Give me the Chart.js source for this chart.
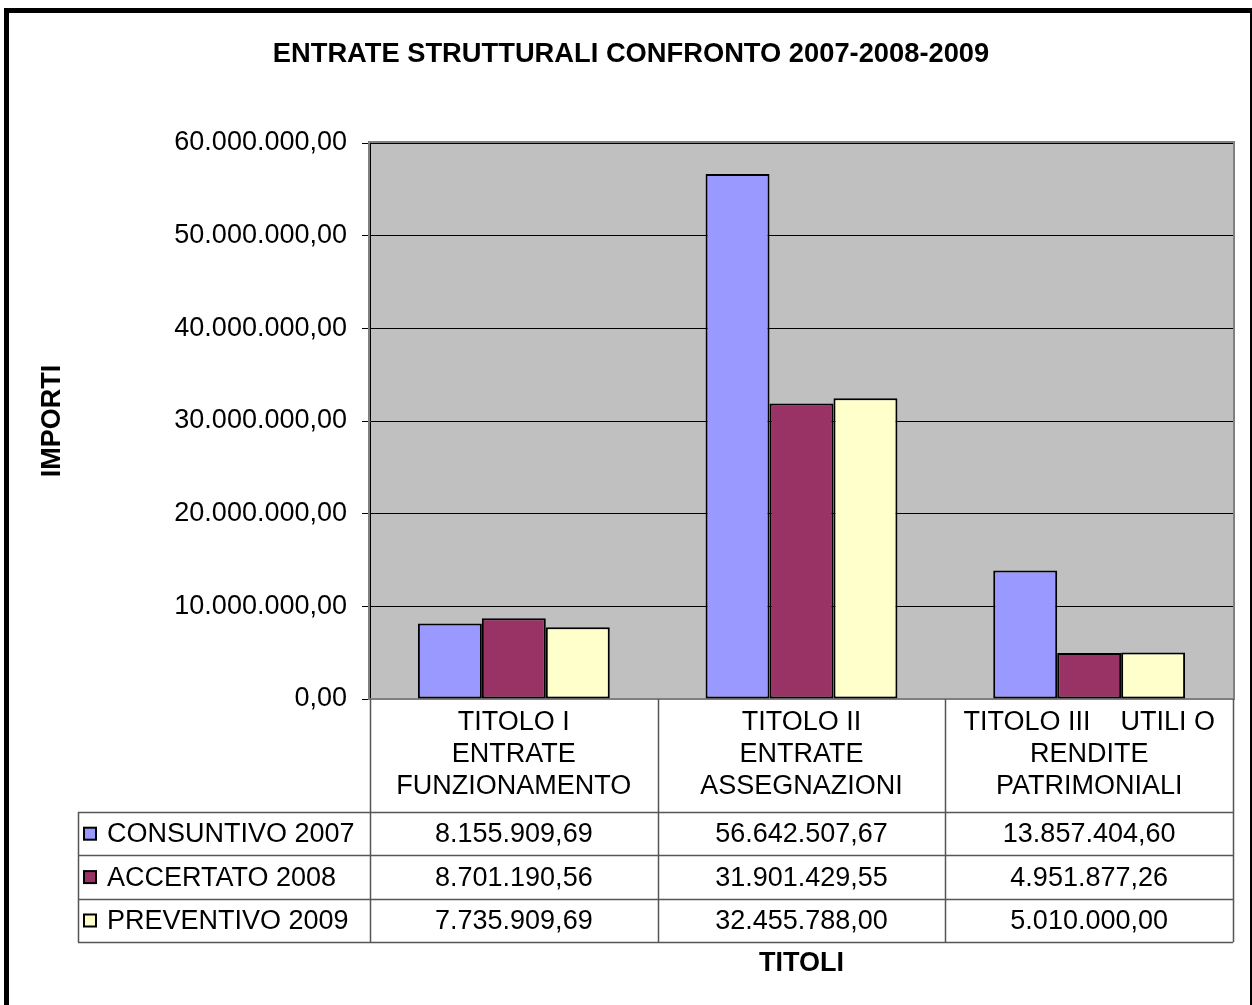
<!DOCTYPE html>
<html>
<head>
<meta charset="utf-8">
<script src="https://cdn.jsdelivr.net/npm/chart.js@4/dist/chart.umd.min.js"></script>
<style>
html, body { margin: 0; padding: 0; background: #fff; }
canvas { display: block; }
</style>
</head>
<body>
<canvas id="myChart" width="1252" height="1005"></canvas>
<script>
const categories = [
    ['TITOLO I', 'ENTRATE', 'FUNZIONAMENTO'],
    ['TITOLO II', 'ENTRATE', 'ASSEGNAZIONI'],
    ['TITOLO III    UTILI O', 'RENDITE', 'PATRIMONIALI']
];
const seriesNames = ['CONSUNTIVO 2007', 'ACCERTATO 2008', 'PREVENTIVO 2009'];
const consuntivo2007 = [8155909.69, 56642507.67, 13857404.60];
const accertato2008 = [8701190.56, 31901429.55, 4951877.26];
const preventivo2009 = [7735909.69, 32455788.00, 5010000.00];
const seriesColors = ['#9999FF', '#993366', '#FFFFCC'];
const yMax = 60000000;
const yStep = 10000000;

const FONT = "'Liberation Sans', Arial, sans-serif";

function formatIt(number) {
    const parts = number.toFixed(2).split('.');
    return parts[0].replace(/\B(?=(\d{3})+(?!\d))/g, '.') + ',' + parts[1];
}

const allSeries = [consuntivo2007, accertato2008, preventivo2009];

// background, plot fill
const backgroundPlugin = {
    id: 'background',
    beforeDraw(chart) {
        const { ctx, chartArea: a } = chart;
        ctx.save();
        ctx.fillStyle = '#ffffff';
        ctx.fillRect(0, 0, chart.width, chart.height);
        ctx.fillStyle = '#C0C0C0';
        ctx.fillRect(a.left, a.top, a.right - a.left, a.bottom - a.top);
        ctx.restore();
    },
    beforeDatasetsDraw(chart) {
        const { ctx, chartArea: a } = chart;
        ctx.save();
        ctx.strokeStyle = '#808080';
        ctx.lineWidth = 2;
        ctx.strokeRect(a.left - 1, a.top - 1, a.right - a.left + 2, a.bottom - a.top + 1);
        ctx.restore();
    }
};

// data table under the plot, title, frame
const tablePlugin = {
    id: 'dataTable',
    afterDraw(chart) {
        const { ctx, chartArea: a } = chart;
        const colW = (a.right - a.left) / categories.length;
        const headerBottom = 812;
        const rowH = 43.4;
        const tableLeft = 78;
        const tableBottom = headerBottom + rowH * seriesNames.length;

        ctx.save();
        ctx.strokeStyle = '#555555';
        ctx.lineWidth = 1.5;
        ctx.beginPath();
        // vertical lines
        for (let i = 0; i <= categories.length; i++) {
            const xx = Math.round(a.left + colW * i) + 0.5;
            ctx.moveTo(xx, a.bottom);
            ctx.lineTo(xx, tableBottom);
        }
        ctx.moveTo(tableLeft + 0.5, headerBottom);
        ctx.lineTo(tableLeft + 0.5, tableBottom);
        // horizontal lines
        for (let r = 0; r <= seriesNames.length; r++) {
            const yy = Math.round(headerBottom + rowH * r) + 0.5;
            ctx.moveTo(tableLeft, yy);
            ctx.lineTo(a.right, yy);
        }
        ctx.stroke();

        ctx.font = '27px ' + FONT;
        ctx.fillStyle = '#000';
        ctx.textBaseline = 'middle';
        seriesNames.forEach((name, r) => {
            const cy = headerBottom + rowH * r + rowH / 2;
            // legend key
            ctx.fillStyle = seriesColors[r];
            ctx.fillRect(84, cy - 6, 12, 12);
            ctx.strokeStyle = '#000';
            ctx.lineWidth = 2;
            ctx.strokeRect(84, cy - 6, 12, 12);
            ctx.fillStyle = '#000';
            ctx.textAlign = 'left';
            ctx.fillText(name, 107, cy + 1);
            ctx.textAlign = 'center';
            allSeries[r].forEach((v, c) => {
                ctx.fillText(formatIt(v), a.left + colW * (c + 0.5), cy + 1);
            });
        });

        // axis title below table
        ctx.font = 'bold 27px ' + FONT;
        ctx.textAlign = 'center';
        ctx.fillText('TITOLI', (a.left + a.right) / 2, 964);

        // chart title
        ctx.font = 'bold 27.3px ' + FONT;
        ctx.fillText('ENTRATE STRUTTURALI CONFRONTO 2007-2008-2009', 631, 54);

        // outer frame
        ctx.strokeStyle = '#000';
        ctx.lineWidth = 5;
        ctx.strokeRect(6.5, 10.5, 1246, 1010);
        ctx.restore();
    }
};

const ctx = document.getElementById('myChart').getContext('2d');

const myChart = new Chart(ctx, {
    type: 'bar',
    data: {
        labels: categories,
        datasets: seriesNames.map((name, i) => ({
            label: name,
            data: allSeries[i],
            backgroundColor: seriesColors[i],
            borderColor: '#000000',
            borderWidth: 2,
            borderSkipped: false,
            categoryPercentage: 0.667,
            barPercentage: 1
        }))
    },
    options: {
        responsive: false,
        animation: false,
        layout: {
            padding: { top: 143, right: 19, left: 0, bottom: 0 }
        },
        plugins: {
            legend: { display: false },
            title: { display: false },
            tooltip: { enabled: false }
        },
        scales: {
            x: {
                grid: { display: false, drawTicks: false },
                border: { display: true, color: '#000', width: 1 },
                ticks: {
                    color: '#000',
                    font: { family: FONT, size: 27 },
                    padding: 7,
                    maxRotation: 0,
                    autoSkip: false
                },
                afterFit(scale) { scale.height = 306; }
            },
            y: {
                min: 0,
                max: yMax,
                grid: { color: '#000', lineWidth: 1, tickLength: 8 },
                border: { display: true, color: '#000', width: 1 },
                ticks: {
                    stepSize: yStep,
                    color: '#000',
                    font: { family: FONT, size: 27 },
                    padding: 15,
                    callback: (v) => formatIt(v)
                },
                title: {
                    display: true,
                    text: 'IMPORTI',
                    color: '#000',
                    font: { family: FONT, size: 27, weight: 'bold' },
                    padding: { top: 36, bottom: 0 }
                },
                afterFit(scale) { scale.width = 370; }
            }
        }
    },
    plugins: [backgroundPlugin, tablePlugin]
});
</script>
</body>
</html>
